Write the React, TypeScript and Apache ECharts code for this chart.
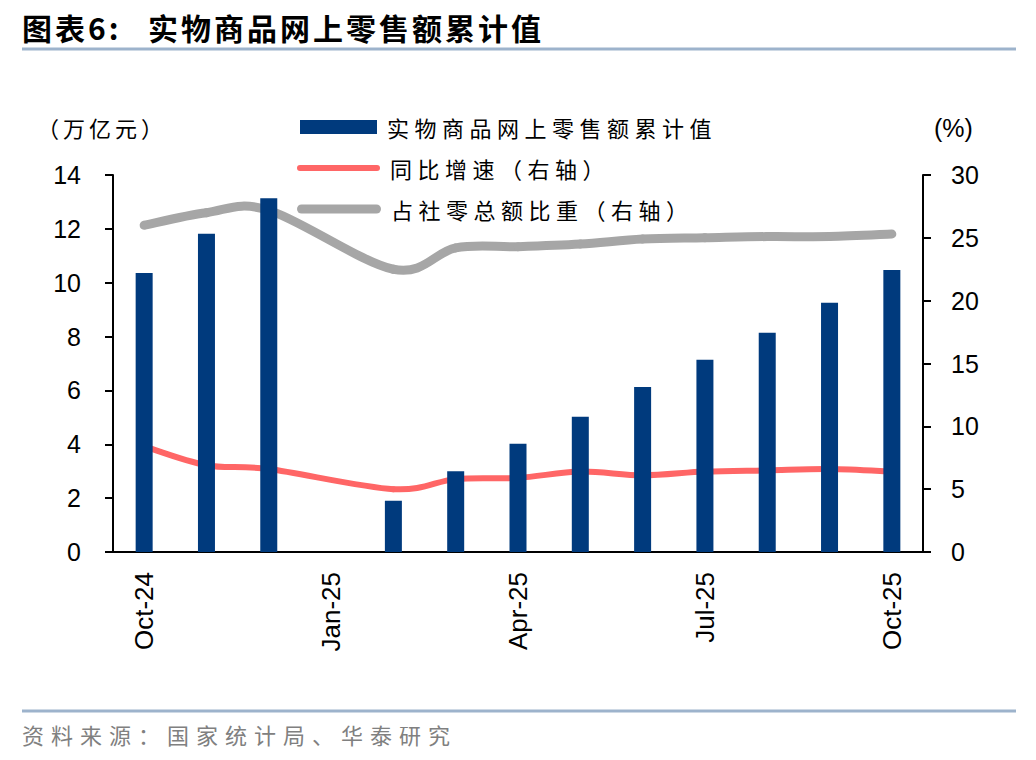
import React, { useEffect, useRef } from "react";
import * as echarts from "echarts";

const categories = [
  "Oct-24", "Nov-24", "Dec-24", "Jan-25", "Feb-25", "Mar-25", "Apr-25",
  "May-25", "Jun-25", "Jul-25", "Aug-25", "Sep-25", "Oct-25",
];
const retailValue = [10.36, 11.82, 13.14, null, 1.9, 3.0, 4.02, 5.02, 6.13, 7.14, 8.14, 9.26, 10.47];
const yoyGrowth = [8.4, 6.9, 6.6, null, 5.0, 5.8, 5.9, 6.4, 6.1, 6.4, 6.5, 6.6, 6.4];
const shareOfTotal = [26.0, 27.0, 27.2, null, 22.5, 24.2, 24.3, 24.5, 24.9, 25.0, 25.1, 25.1, 25.3];
const leftTicks = [0, 2, 4, 6, 8, 10, 12, 14];
const rightTicks = [0, 5, 10, 15, 20, 25, 30];
const seriesNames = ["实物商品网上零售额累计值", "同比增速（右轴）", "占社零总额比重（右轴）"];

const BAR = "#003A7D";
const RED = "#FF6666";
const GRAY = "#A6A6A6";
const SEP = "#9DB3CC";
const LATIN = "Liberation Sans, Arial, sans-serif";
const CJK = "Noto Sans CJK SC";

// skip missing months so the smoothed line joins Dec directly to Feb
const toPairs = (arr: (number | null)[]) =>
  arr.map((v, i) => [i, v]).filter((p) => p[1] !== null) as number[][];

// Catmull-Rom style smoothed line (as in the spreadsheet original), one bezier per segment
const smoothLine = (name: string, values: (number | null)[], color: string, width: number) => {
  const pairs = toPairs(values);
  return {
    name,
    type: "custom",
    yAxisIndex: 1,
    coordinateSystem: "cartesian2d",
    encode: { x: 0, y: 1 },
    data: pairs,
    itemStyle: { color },
    renderItem: (params: any, api: any) => {
      const i = params.dataIndex;
      if (i >= pairs.length - 1) return null;
      const pt = (k: number) => api.coord(pairs[Math.max(0, Math.min(pairs.length - 1, k))]);
      const p0 = pt(i - 1), p1 = pt(i), p2 = pt(i + 1), p3 = pt(i + 2);
      return {
        type: "bezierCurve",
        shape: {
          x1: p1[0], y1: p1[1],
          cpx1: p1[0] + (p2[0] - p0[0]) / 6, cpy1: p1[1] + (p2[1] - p0[1]) / 6,
          cpx2: p2[0] - (p3[0] - p1[0]) / 6, cpy2: p2[1] - (p3[1] - p1[1]) / 6,
          x2: p2[0], y2: p2[1],
        },
        style: { stroke: color, lineWidth: width, lineCap: "round", fill: null },
      };
    },
  };
};

export default function App() {
  const ref = useRef<HTMLDivElement>(null);
  useEffect(() => {
    document.body.style.margin = "0";
    const chart = echarts.init(ref.current!, null, { renderer: "svg" });
    const legendText = {
      fontFamily: CJK + ", spB",
      fontSize: 22,
      color: "#000",
      padding: [0, 0, 0, 5],
    };
    chart.setOption({
      animation: false,
      grid: { left: 113, right: 113, top: 175, bottom: 208 },
      legend: [
        {
          data: [{ name: seriesNames[0], icon: "rect", itemStyle: { color: BAR, borderWidth: 0 } }],
          left: 300, top: 116, itemWidth: 77, itemHeight: 14, padding: 0,
          selectedMode: false, textStyle: legendText,
        },
        {
          data: [{
            name: seriesNames[1],
            icon: "path://M3,0H80A3,3 0 0 1 80,6H3A3,3 0 0 1 3,0Z",
            itemStyle: { color: RED, borderWidth: 0 },
          }],
          left: 297, top: 157, itemWidth: 83, itemHeight: 6, padding: 0,
          selectedMode: false, textStyle: legendText,
        },
        {
          data: [{
            name: seriesNames[2],
            icon: "path://M4.5,0H79.5A4.5,4.5 0 0 1 79.5,9H4.5A4.5,4.5 0 0 1 4.5,0Z",
            itemStyle: { color: GRAY, borderWidth: 0 },
          }],
          left: 297, top: 198, itemWidth: 84, itemHeight: 9, padding: 0,
          selectedMode: false, textStyle: legendText,
        },
      ],
      xAxis: {
        type: "category",
        data: categories,
        boundaryGap: true,
        axisLine: { lineStyle: { color: "#000", width: 2 } },
        axisTick: { interval: 2, length: 8, lineStyle: { color: "#000", width: 2 } },
        axisLabel: {
          interval: 2, rotate: 90, margin: 20,
          fontFamily: LATIN, fontSize: 26, color: "#000",
        },
        splitLine: { show: false },
      },
      yAxis: [
        {
          type: "value",
          min: leftTicks[0], max: leftTicks[leftTicks.length - 1], interval: 2,
          axisLine: { show: true, lineStyle: { color: "#000", width: 2 } },
          axisTick: { show: true, length: 8, lineStyle: { color: "#000", width: 2 } },
          axisLabel: { margin: 32, fontFamily: LATIN, fontSize: 25, color: "#000" },
          splitLine: { show: false },
        },
        {
          type: "value",
          position: "right",
          min: rightTicks[0], max: rightTicks[rightTicks.length - 1], interval: 5,
          axisLine: { show: true, lineStyle: { color: "#000", width: 2 } },
          axisTick: { show: true, length: 8, lineStyle: { color: "#000", width: 2 } },
          axisLabel: { margin: 28, fontFamily: LATIN, fontSize: 25, color: "#000" },
          splitLine: { show: false },
        },
      ],
      series: [
        {
          name: seriesNames[0],
          type: "bar",
          yAxisIndex: 0,
          data: retailValue,
          barWidth: 17,
          itemStyle: { color: BAR },
        },
        smoothLine(seriesNames[1], yoyGrowth, RED, 6),
        smoothLine(seriesNames[2], shareOfTotal, GRAY, 9),
      ],
      graphic: [
        {
          type: "text", left: 22, top: 12,
          style: { text: "图表6:", fontFamily: CJK + ", spA", fontWeight: "bold", fontSize: 30, fill: "#000" },
        },
        {
          type: "text", left: 148, top: 12,
          style: { text: "实物商品网上零售额累计值", fontFamily: CJK + ", spA", fontWeight: "bold", fontSize: 30, fill: "#000" },
        },
        {
          type: "line",
          shape: { x1: 22, y1: 49, x2: 1016, y2: 49 },
          style: { stroke: SEP, lineWidth: 3 },
        },
        {
          type: "text", left: 37, top: 116,
          style: { text: "（万亿元）", fontFamily: CJK + ", spD", fontSize: 22, fill: "#000" },
        },
        {
          type: "text", left: 934, top: 115,
          style: { text: "(%)", fontFamily: LATIN, fontSize: 25, fill: "#000" },
        },
        {
          type: "line",
          shape: { x1: 22, y1: 711, x2: 1016, y2: 711 },
          style: { stroke: SEP, lineWidth: 3 },
        },
        {
          type: "text", left: 22, top: 723,
          style: { text: "资料来源：国家统计局、华泰研究", fontFamily: CJK + ", spC", fontSize: 22, fill: "#808080" },
        },
      ],
    });
    return () => chart.dispose();
  }, []);
  return (
    <>
      <style>{`
        svg text[style*="spA"] { letter-spacing: 3px; }
        svg text[style*="spB"] { letter-spacing: 5.5px; }
        svg text[style*="spC"] { letter-spacing: 7px; }
        svg text[style*="spD"] { letter-spacing: 4px; }
      `}</style>
      <div
        ref={ref}
        style={{ position: "fixed", left: 0, top: 0, width: 1036, height: 760, background: "#fff" }}
      />
    </>
  );
}
